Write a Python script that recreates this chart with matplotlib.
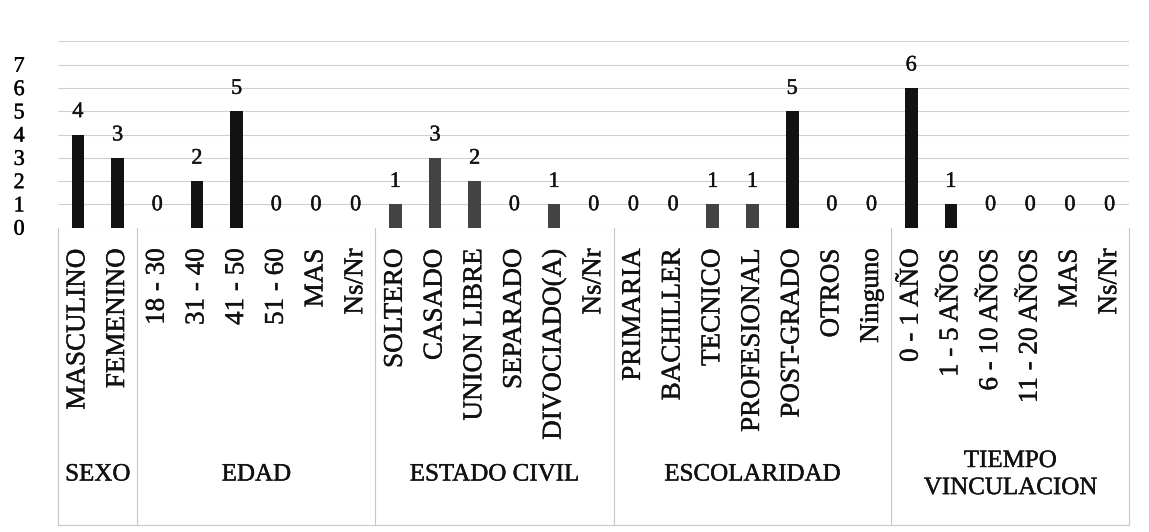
import matplotlib
matplotlib.use("Agg")
import matplotlib.pyplot as plt
import matplotlib.transforms as mtransforms
import matplotlib.patheffects as pe
import numpy as np

plt.rcParams['font.family'] = ['Liberation Serif', 'DejaVu Serif']

# categories of the survey, grouped by question
groups = ["SEXO", "EDAD", "ESTADO CIVIL", "ESCOLARIDAD", "TIEMPO\nVINCULACION"]
group_items = [
    ["MASCULINO", "FEMENINO"],
    ["18 - 30", "31 - 40", "41 - 50", "51 - 60", "MAS", "Ns/Nr"],
    ["SOLTERO", "CASADO", "UNION LIBRE", "SEPARADO", "DIVOCIADO(A)", "Ns/Nr"],
    ["PRIMARIA", "BACHILLER", "TECNICO", "PROFESIONAL", "POST-GRADO", "OTROS", "Ninguno"],
    ["0 - 1 AÑO", "1 - 5 AÑOS", "6 - 10 AÑOS", "11 - 20 AÑOS", "MAS", "Ns/Nr"],
]
group_values = [
    [4, 3],
    [0, 2, 5, 0, 0, 0],
    [1, 3, 2, 0, 1, 0],
    [0, 0, 1, 1, 5, 0, 0],
    [6, 1, 0, 0, 0, 0],
]

labels = [lab for items in group_items for lab in items]
values = [v for vals in group_values for v in vals]
x = np.arange(len(labels))

# bars in the middle of the chart came out lighter
colors = ["#121212"] * len(labels)
for i in range(8, 18):
    colors[i] = "#434343"

# a touch heavier strokes for all text
ink = [pe.withStroke(linewidth=0.3, foreground="#111111")]

fig = plt.figure(figsize=(11.49, 5.32), dpi=100)
ax = fig.add_axes([0.0505, 0.572, 0.9325, 0.35])

ax.bar(x, values, width=0.32, color=colors, zorder=3)
ax.set_xlim(-0.5, len(labels) - 0.5)
ax.set_ylim(0, 8)
ax.set_yticks(range(0, 8))
ax.set_yticklabels([str(v) for v in range(0, 8)], fontsize=16, path_effects=ink)
ax.tick_params(axis='y', length=0, pad=24)
ax.set_xticks([])
for s in ax.spines.values():
    s.set_visible(False)
for yv in range(0, 9):
    ax.axhline(yv, color="#d0d0d0", lw=0.8, zorder=1)

for xi, v in zip(x, values):
    ax.annotate(str(v), (xi, v), xytext=(0, 9), textcoords="offset points",
                ha="center", va="bottom", fontsize=16, color="#111111",
                path_effects=ink)

# multi-level category axis below the plot
trans = mtransforms.blended_transform_factory(ax.transData, fig.transFigure)
for xi, lab in zip(x, labels):
    ax.text(xi, 0.533, lab, transform=trans, rotation=90, ha="center", va="top",
            fontsize=19.5, color="#111111", clip_on=False, path_effects=ink)

bounds = [-0.5]
for items in group_items:
    bounds.append(bounds[-1] + len(items))
for b in bounds:
    ax.plot([b, b], [0.572, 0.013], transform=trans, color="#c8c8c8", lw=0.8,
            clip_on=False)
ax.plot([-0.5, len(labels) - 0.5], [0.013, 0.013], transform=trans,
        color="#c8c8c8", lw=0.8, clip_on=False)

for g, lo, hi in zip(groups, bounds[:-1], bounds[1:]):
    ax.text((lo + hi) / 2, 0.108, g, transform=trans, ha="center", va="center",
            fontsize=18, color="#111111", linespacing=1.3, clip_on=False,
            path_effects=ink)

fig.savefig("out.png", dpi=100, facecolor="white")
